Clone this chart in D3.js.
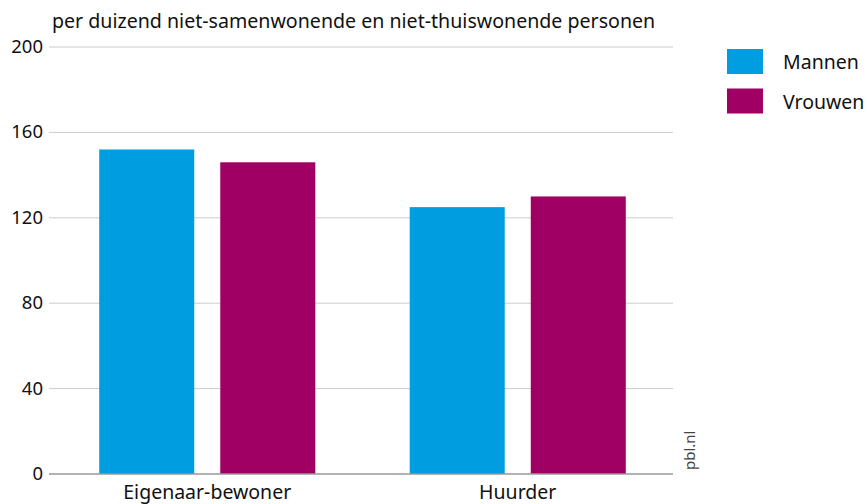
<!DOCTYPE html>
<html>
<head>
<meta charset="utf-8">
<script src="https://cdn.jsdelivr.net/npm/d3@7"></script>
<style>
  body { margin: 0; background: #fff; }
  svg text { font-family: "Noto Sans", sans-serif; fill: #111; }
</style>
</head>
<body>
<svg id="chart" width="867" height="504"></svg>
<script>
const categories = ["Eigenaar-bewoner", "Huurder"];
const series = ["Mannen", "Vrouwen"];
const mannen = [152, 125];
const vrouwen = [146, 130];
const y_ticks = [0, 40, 80, 120, 160, 200];
const colors = ["#009ee0", "#a00064"];
const title = "per duizend niet-samenwonende en niet-thuiswonende personen";

let svg = d3.select("#chart");
let left = 52, right = 673, top_y = 47, bottom = 474;

let values = [mannen, vrouwen];
let rows = categories.map((c, i) => ({cat: c, vals: series.map((s, j) => ({key: s, value: values[j][i], idx: j}))}));

let x0 = d3.scaleBand().domain(categories).range([left, right]).padding(0);
let x1 = d3.scaleBand().domain(series).range([0, x0.bandwidth()]).paddingInner(0.215).paddingOuter(0.39);
let y = d3.scaleLinear().domain([0, 200]).range([bottom, top_y]);

// gridlines
svg.append("g").selectAll("line").data(y_ticks.filter(d => d > 0)).enter().append("line")
  .attr("x1", 49).attr("x2", right)
  .attr("y1", d => y(d)).attr("y2", d => y(d))
  .attr("stroke", "#cccccc").attr("stroke-width", 1);

// y tick labels
svg.append("g").selectAll("text").data(y_ticks).enter().append("text")
  .attr("x", 43).attr("y", d => y(d) + 6)
  .attr("text-anchor", "end").attr("font-size", 18.5)
  .text(d => d);

// bars
let groups = svg.append("g").selectAll(".grp").data(rows).enter().append("g")
  .attr("transform", d => "translate(" + x0(d.cat) + ",0)");
groups.selectAll("rect").data(d => d.vals).enter().append("rect")
  .attr("x", d => x1(d.key)).attr("width", x1.bandwidth())
  .attr("y", d => y(d.value)).attr("height", d => y(0) - y(d.value))
  .attr("fill", d => colors[d.idx]);

// zero line
svg.append("line").attr("x1", 49).attr("x2", right)
  .attr("y1", y(0)).attr("y2", y(0))
  .attr("stroke", "#999999").attr("stroke-width", 1.5);

// x labels
svg.append("g").selectAll("text").data(categories).enter().append("text")
  .attr("x", d => x0(d) + x0.bandwidth() / 2).attr("y", 499)
  .attr("text-anchor", "middle").attr("font-size", 19.5)
  .text(d => d);

// title
svg.append("text").attr("x", 52).attr("y", 28).attr("font-size", 19.6).text(title);

// legend
let legend = svg.append("g").selectAll("g").data(series).enter().append("g")
  .attr("transform", (d, i) => "translate(727," + (49 + i * 39.5) + ")");
legend.append("rect").attr("width", 36).attr("height", 25).attr("fill", (d, i) => colors[i]);
legend.append("text").attr("x", 56).attr("y", 20).attr("font-size", 19.5).text(d => d);

// source
svg.append("text").attr("transform", "translate(695,470) rotate(-90)")
  .attr("font-size", 15).style("fill", "#444").text("pbl.nl");
</script>
</body>
</html>
